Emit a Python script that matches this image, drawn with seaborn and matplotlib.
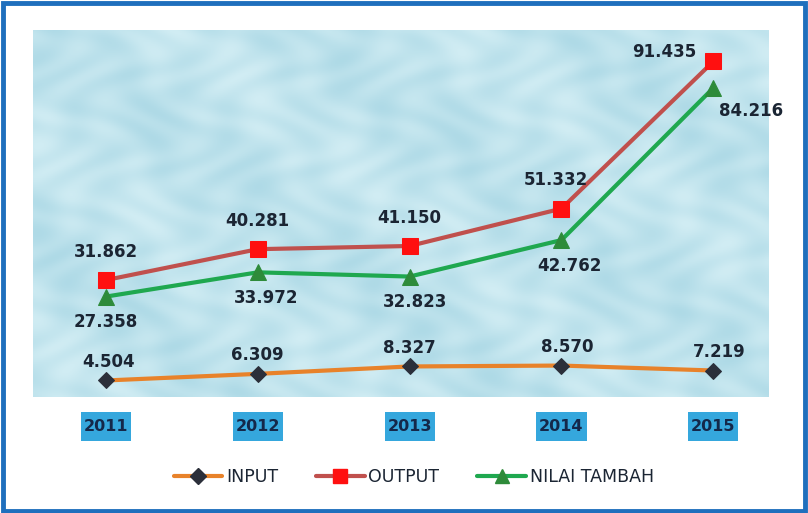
import numpy as np
import pandas as pd
import matplotlib
matplotlib.use("Agg")
import matplotlib.pyplot as plt
import matplotlib.transforms as mtransforms
import seaborn as sns
from matplotlib.patches import Rectangle
from matplotlib.lines import Line2D

years = ["2011", "2012", "2013", "2014", "2015"]
input_vals = [4.504, 6.309, 8.327, 8.570, 7.219]
output_vals = [31.862, 40.281, 41.150, 51.332, 91.435]
nilai_vals = [27.358, 33.972, 32.823, 42.762, 84.216]
input_lbl = ["4.504", "6.309", "8.327", "8.570", "7.219"]
output_lbl = ["31.862", "40.281", "41.150", "51.332", "91.435"]
nilai_lbl = ["27.358", "33.972", "32.823", "42.762", "84.216"]

sns.set_style("white")
plt.rcParams['font.family'] = ['DejaVu Sans']

fig = plt.figure(figsize=(8.08, 5.13), dpi=100)
fig.patch.set_facecolor("white")
# outer blue frame
fig.add_artist(Rectangle((0.004, 0.004), 0.992, 0.990, transform=fig.transFigure,
                         fill=False, edgecolor="#1f6fbd", linewidth=3.5))

ax = fig.add_axes([0.0408, 0.2261, 0.9097, 0.7154])
idx = list(range(len(years)))
df = pd.DataFrame({"idx": idx, "INPUT": input_vals, "OUTPUT": output_vals, "NILAI TAMBAH": nilai_vals})

# water-like background texture
gx = np.linspace(0, 1, 400)
gy = np.linspace(0, 1, 200)
X, Y = np.meshgrid(gx, gy)
tex = 0.55 + 0.18 * np.sin(X * 60 + np.sin(Y * 25) * 2) * np.cos(Y * 40 + np.cos(X * 30)) \
      + 0.1 * np.sin(X * 17 + Y * 11)
tex = np.clip(tex, 0, 1)
c1 = np.array([0.62, 0.82, 0.88])
c2 = np.array([0.86, 0.95, 0.97])
img = c1[None, None, :] * (1 - tex[..., None]) + c2[None, None, :] * tex[..., None]
ax.imshow(img, extent=(-0.48, 4.36, 0, 100), aspect="auto", zorder=0, origin="lower")

sns.lineplot(data=df, x="idx", y="INPUT", ax=ax, color="#e8822a", linewidth=3,
             marker="D", markersize=8, markerfacecolor="#2b2f3a", markeredgecolor="#2b2f3a", zorder=3)
sns.lineplot(data=df, x="idx", y="OUTPUT", ax=ax, color="#c0504d", linewidth=3,
             marker="s", markersize=12, markerfacecolor="#ff1010", markeredgecolor="#ff1010", zorder=4)
sns.lineplot(data=df, x="idx", y="NILAI TAMBAH", ax=ax, color="#1fa84f", linewidth=3,
             marker="^", markersize=11, markerfacecolor="#2e8b3a", markeredgecolor="#2e8b3a", zorder=4)

ax.set_xlim(-0.48, 4.36)
ax.set_ylim(0, 100)
ax.set_xlabel("")
ax.set_ylabel("")
ax.set_yticks([])
for s in ax.spines.values():
    s.set_visible(False)

lab = dict(fontsize=12, fontweight="bold", color="#1b2533", zorder=6)
# output labels
out_off = [(0, 14, "center", "bottom"), (0, 14, "center", "bottom"), (0, 14, "center", "bottom"),
           (-4, 14, "center", "bottom"), (-12, 0, "right", "bottom")]
for i, (dx, dy, ha, va) in enumerate(out_off):
    ax.annotate(output_lbl[i], (idx[i], output_vals[i]), xytext=(dx, dy), textcoords="offset points",
                ha=ha, va=va, **lab)
nil_off = [(0, -12, "center", "top"), (6, -12, "center", "top"), (4, -12, "center", "top"),
           (6, -12, "center", "top"), (4, -10, "left", "top")]
for i, (dx, dy, ha, va) in enumerate(nil_off):
    ax.annotate(nilai_lbl[i], (idx[i], nilai_vals[i]), xytext=(dx, dy), textcoords="offset points",
                ha=ha, va=va, **lab)
in_off = [(2, 7, "center", "bottom"), (0, 7, "center", "bottom"), (0, 7, "center", "bottom"),
          (4, 7, "center", "bottom"), (4, 7, "center", "bottom")]
for i, (dx, dy, ha, va) in enumerate(in_off):
    ax.annotate(input_lbl[i], (idx[i], input_vals[i]), xytext=(dx, dy), textcoords="offset points",
                ha=ha, va=va, **lab)

# year labels with blue boxes
ax.set_xticks(idx)
ax.set_xticklabels([])
ax.tick_params(axis="x", length=0)
trans = mtransforms.blended_transform_factory(ax.transData, ax.transAxes)
bw = 0.33
bh = 0.079
yc = -0.0804
for i, yr in enumerate(years):
    ax.add_patch(Rectangle((idx[i] - bw / 2, yc - bh / 2), bw, bh, transform=trans,
                           facecolor="#35a7dd", edgecolor="none", clip_on=False, zorder=2))
    ax.text(idx[i], yc, yr, transform=trans, ha="center", va="center",
            fontsize=11.5, fontweight="bold", color="#14284a", zorder=3)

handles = [
    Line2D([], [], color="#e8822a", linewidth=3, marker="D", markersize=8,
           markerfacecolor="#2b2f3a", markeredgecolor="#2b2f3a"),
    Line2D([], [], color="#c0504d", linewidth=3, marker="s", markersize=10,
           markerfacecolor="#ff1010", markeredgecolor="#ff1010"),
    Line2D([], [], color="#1fa84f", linewidth=3, marker="^", markersize=10,
           markerfacecolor="#2e8b3a", markeredgecolor="#2e8b3a"),
]
leg = fig.legend(handles, ["INPUT", "OUTPUT", "NILAI TAMBAH"], loc="center",
                 bbox_to_anchor=(0.512, 0.07), ncol=3, frameon=False, fontsize=12.5,
                 handlelength=2.8, handletextpad=0.2, columnspacing=2.2)
for t in leg.get_texts():
    t.set_color("#1b2533")

fig.savefig("out.png", dpi=100)
